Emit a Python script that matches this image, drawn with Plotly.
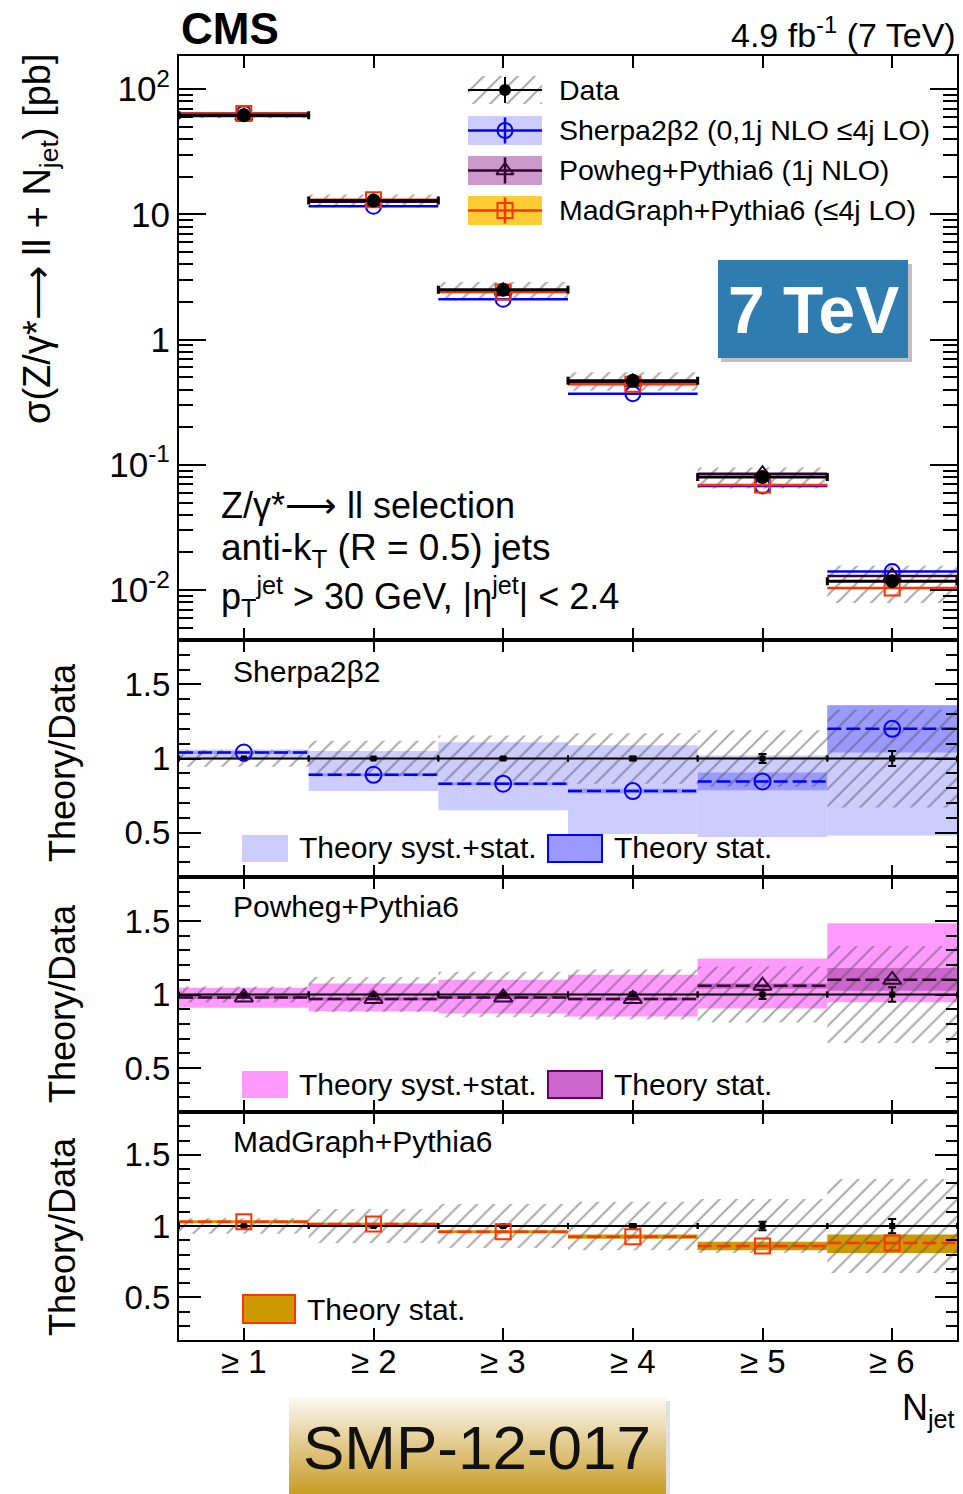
import plotly.graph_objects as go

W, H = 963, 1494
FONT = "Liberation Sans, Arial, Helvetica, sans-serif"

# ---------------- data ----------------
bins = [1, 2, 3, 4, 5, 6]
bin_labels = ["≥ 1", "≥ 2", "≥ 3", "≥ 4", "≥ 5", "≥ 6"]

data_xs = [62.0, 12.9, 2.5, 0.47, 0.080, 0.0118]
data_tot_rel = [0.055, 0.12, 0.155, 0.17, 0.19, 0.33]
data_stat_rel = [0.004, 0.005, 0.007, 0.012, 0.03, 0.05]
data_ratio = [1, 1, 1, 1, 1, 1]

sherpa_xs = [64.0, 11.6, 2.1, 0.37, 0.068, 0.0141]
powheg_xs = [61.0, 12.6, 2.45, 0.46, 0.085, 0.0130]
madgraph_xs = [64.0, 13.1, 2.4, 0.44, 0.069, 0.0104]

sherpa_ratio = [1.04, 0.89, 0.83, 0.78, 0.845, 1.20]
sherpa_syst_lo = [0.99, 0.78, 0.65, 0.49, 0.47, 0.48]
sherpa_syst_hi = [1.06, 1.05, 1.11, 1.09, 1.02, 1.36]
sherpa_stat_lo = [1.03, 0.88, 0.82, 0.765, 0.785, 1.04]
sherpa_stat_hi = [1.05, 0.90, 0.84, 0.795, 0.905, 1.36]

powheg_ratio = [0.98, 0.97, 0.98, 0.97, 1.06, 1.10]
powheg_syst_lo = [0.91, 0.886, 0.87, 0.85, 0.905, 0.947]
powheg_syst_hi = [1.046, 1.075, 1.10, 1.135, 1.245, 1.485]
powheg_stat_lo = [0.97, 0.96, 0.97, 0.96, 1.04, 1.025]
powheg_stat_hi = [0.99, 0.98, 0.99, 0.98, 1.075, 1.18]

madgraph_ratio = [1.03, 1.014, 0.96, 0.925, 0.86, 0.88]
madgraph_stat_lo = [1.02, 1.005, 0.95, 0.91, 0.83, 0.81]
madgraph_stat_hi = [1.04, 1.022, 0.97, 0.94, 0.89, 0.94]

# ---------------- styles ----------------
C_SHERPA = "#0000ff"
C_POWHEG = "#330033"
C_MADG = "#ff3300"
HATCH = dict(shape="/", fgcolor="#555555", bgcolor="rgba(0,0,0,0)", size=12, solidity=0.17, fillmode="overlay")


def fx(px):
    return px / W


def fy(py):
    return 1 - py / H


fig = go.Figure()

# ---------------- main panel ----------------
fig.add_trace(go.Bar(
    x=bins, base=[d * (1 - r) for d, r in zip(data_xs, data_tot_rel)],
    y=[d * 2 * r for d, r in zip(data_xs, data_tot_rel)], width=1.0,
    marker=dict(color="rgba(0,0,0,0)", line=dict(width=0), pattern=HATCH),
    xaxis="x", yaxis="y", showlegend=False, hoverinfo="skip"))

for vals, col, sym, sz in [(sherpa_xs, C_SHERPA, "circle-open", 15),
                           (powheg_xs, C_POWHEG, "triangle-up-open", 15),
                           (madgraph_xs, C_MADG, "square-open", 15)]:
    fig.add_trace(go.Scatter(
        x=bins, y=vals, mode="markers",
        marker=dict(symbol=sym, size=sz, color=col, line=dict(width=2, color=col)),
        error_x=dict(type="constant", value=0.5, thickness=2.5, width=0, color=col),
        xaxis="x", yaxis="y", showlegend=False))

fig.add_trace(go.Scatter(
    x=bins, y=data_xs, mode="markers",
    marker=dict(symbol="circle", size=14, color="black"),
    error_x=dict(type="constant", value=0.5, thickness=3, width=4, color="black"),
    xaxis="x", yaxis="y", showlegend=False))

# ---------------- ratio panels ----------------
def seg(vals):
    xs, ys = [], []
    for c, v in zip(bins, vals):
        xs += [c - 0.5, c + 0.5, None]
        ys += [v, v, None]
    return xs, ys


def band(lo, hi, color, ax):
    fig.add_trace(go.Bar(
        x=bins, base=lo, y=[h - l for l, h in zip(lo, hi)], width=1.0,
        marker=dict(color=color, line=dict(width=0)),
        xaxis="x" + ax, yaxis="y" + ax, showlegend=False, hoverinfo="skip"))


def data_ratio_traces(ax):
    fig.add_trace(go.Bar(
        x=bins, base=[1 - r for r in data_tot_rel], y=[2 * r for r in data_tot_rel], width=1.0,
        marker=dict(color="rgba(0,0,0,0)", line=dict(width=0), pattern=HATCH),
        xaxis="x" + ax, yaxis="y" + ax, showlegend=False, hoverinfo="skip"))
    fig.add_trace(go.Scatter(
        x=bins, y=data_ratio, mode="markers",
        marker=dict(symbol="square", size=6, color="black"),
        error_x=dict(type="constant", value=0.5, thickness=2, width=3, color="black"),
        error_y=dict(type="data", array=data_stat_rel, thickness=2, width=4, color="black"),
        xaxis="x" + ax, yaxis="y" + ax, showlegend=False))


def theory_traces(vals, col, sym, sz, ax):
    xs, ys = seg(vals)
    fig.add_trace(go.Scatter(
        x=xs, y=ys, mode="lines", line=dict(color=col, width=2.5, dash="14px,5px"),
        xaxis="x" + ax, yaxis="y" + ax, showlegend=False, connectgaps=False))
    fig.add_trace(go.Scatter(
        x=bins, y=vals, mode="markers",
        marker=dict(symbol=sym, size=sz, color=col, line=dict(width=2, color=col)),
        xaxis="x" + ax, yaxis="y" + ax, showlegend=False))


# Sherpa
band(sherpa_syst_lo, sherpa_syst_hi, "#ccccff", "2")
band(sherpa_stat_lo, sherpa_stat_hi, "#9999ff", "2")
data_ratio_traces("2")
theory_traces(sherpa_ratio, C_SHERPA, "circle-open", 16, "2")
# Powheg
band(powheg_syst_lo, powheg_syst_hi, "#ff99ff", "3")
band(powheg_stat_lo, powheg_stat_hi, "#cc66cc", "3")
data_ratio_traces("3")
theory_traces(powheg_ratio, C_POWHEG, "triangle-up-open", 16, "3")
# MadGraph
band(madgraph_stat_lo, madgraph_stat_hi, "#cc9900", "4")
data_ratio_traces("4")
theory_traces(madgraph_ratio, C_MADG, "square-open", 15, "4")

# ---------------- overlay (pixel) axis for legend glyphs / decorations ----------------
OV = dict(xaxis="x5", yaxis="y5", showlegend=False, hoverinfo="skip")
# data legend: hatched box
fig.add_trace(go.Scatter(x=[468, 542, 542, 468, 468], y=[76, 76, 104, 104, 76], mode="lines",
                         fill="toself", fillcolor="rgba(0,0,0,0)", fillpattern=HATCH,
                         line=dict(width=0), **OV))
fig.add_trace(go.Scatter(x=[468, 542, None, 505, 505], y=[90, 90, None, 77, 103], mode="lines",
                         line=dict(color="black", width=2), **OV))
fig.add_trace(go.Scatter(x=[505], y=[90], mode="markers", marker=dict(size=12, color="black"), **OV))
legend_rows = [(130.5, "#ccccff", C_SHERPA, "circle-open"),
               (170.5, "#cc99cc", C_POWHEG, "triangle-up-open"),
               (210.5, "#ffcc33", C_MADG, "square-open")]
for yc, fc, lc, sym in legend_rows:
    fig.add_trace(go.Scatter(x=[468, 542, 542, 468, 468], y=[yc - 14.5, yc - 14.5, yc + 14.5, yc + 14.5, yc - 14.5],
                             mode="lines", fill="toself", fillcolor=fc, line=dict(width=0), **OV))
    fig.add_trace(go.Scatter(x=[468, 542, None, 505, 505], y=[yc, yc, None, yc - 13, yc + 13], mode="lines",
                             line=dict(color=lc, width=2.5), **OV))
    fig.add_trace(go.Scatter(x=[505], y=[yc], mode="markers",
                             marker=dict(symbol=sym, size=15, color=lc, line=dict(width=2, color=lc)), **OV))

# SMP box with gradient
fig.add_trace(go.Scatter(x=[292, 670, 670, 292, 292], y=[1401, 1401, 1494, 1494, 1401], mode="lines",
                         fill="toself", fillcolor="rgba(0,0,0,0.12)", line=dict(width=0), **OV))
fig.add_trace(go.Scatter(x=[289, 666, 666, 289, 289], y=[1397, 1397, 1494, 1494, 1397], mode="lines",
                         fill="toself",
                         fillgradient=dict(type="vertical", colorscale=[[0, "#c79d25"], [0.5, "#e2c98a"], [1, "#fcfaf4"]]),
                         line=dict(width=0), **OV))

# ---------------- axes ----------------
dom_x = [fx(179), fx(957)]
main_dom = [fy(640), fy(56)]
r1_dom = [fy(877), fy(640)]
r2_dom = [fy(1112), fy(877)]
r3_dom = [fy(1340), fy(1112)]

xcommon = dict(domain=dom_x, range=[0.5, 6.5], tickvals=bins, ticktext=bin_labels,
               ticks="inside", ticklen=12, tickwidth=2, tickcolor="black",
               showline=True, linewidth=2, linecolor="black", mirror="ticks",
               showgrid=False, zeroline=False, fixedrange=True, showticklabels=False)

ycommon_ratio = dict(range=[0.2, 1.8], tickvals=[0.5, 1, 1.5], ticktext=["0.5", "1", "1.5"],
                     ticks="inside", ticklen=22, tickwidth=2, tickcolor="black",
                     minor=dict(dtick=0.1, tick0=0.2, ticks="inside", ticklen=11, tickwidth=2, tickcolor="black", showgrid=False),
                     showline=True, linewidth=2, linecolor="black", mirror="ticks",
                     showgrid=False, zeroline=False, fixedrange=True,
                     tickfont=dict(size=33, family=FONT, color="black"))

minor_log = [m * 10 ** e for e in range(-3, 3) for m in range(2, 10)]

layout_axes = dict(
    xaxis=dict(xcommon, anchor="y"),
    yaxis=dict(domain=main_dom, anchor="x", type="log", range=[-2.398, 2.265],
               tickvals=[0.01, 0.1, 1, 10, 100],
               ticktext=["10<sup>-2</sup>", "10<sup>-1</sup>", "1", "10", "10<sup>2</sup>"],
               ticks="inside", ticklen=27, tickwidth=2, tickcolor="black",
               minor=dict(tickvals=minor_log, ticks="inside", ticklen=14, tickwidth=2, tickcolor="black", showgrid=False),
               showline=True, linewidth=2, linecolor="black", mirror="ticks",
               showgrid=False, zeroline=False, fixedrange=True,
               tickfont=dict(size=35, family=FONT, color="black")),
    xaxis2=dict(xcommon, anchor="y2"),
    yaxis2=dict(ycommon_ratio, domain=r1_dom, anchor="x2"),
    xaxis3=dict(xcommon, anchor="y3"),
    yaxis3=dict(ycommon_ratio, domain=r2_dom, anchor="x3"),
    xaxis4=dict(xcommon, anchor="y4"),
    yaxis4=dict(ycommon_ratio, domain=r3_dom, anchor="x4"),
    xaxis5=dict(domain=[0, 1], range=[0, W], visible=False, anchor="y5", fixedrange=True),
    yaxis5=dict(domain=[0, 1], range=[H, 0], visible=False, anchor="x5", fixedrange=True),
)

# ---------------- annotations ----------------
def ann(text, px, py, size, xanchor="left", yanchor="middle", color="black", bold=False, angle=0):
    return dict(text=("<b>%s</b>" % text) if bold else text, x=fx(px), y=fy(py), xref="paper", yref="paper",
                xanchor=xanchor, yanchor=yanchor, showarrow=False, textangle=angle,
                font=dict(size=size, family=FONT, color=color))


annotations = [
    ann("CMS", 179, 28, 44, bold=True),
    ann("4.9 fb<sup>-1</sup> (7 TeV)", 958, 32, 34, xanchor="right"),
    ann("σ(Z/γ*⟶ ll + N<sub>jet</sub>) [pb]", 40, 239, 38, xanchor="center", angle=-90),
    ann("Data", 557, 90, 28.5),
    ann("Sherpa2β2 (0,1j NLO ≤4j LO)", 557, 130, 28.5),
    ann("Powheg+Pythia6 (1j NLO)", 557, 170, 28.5),
    ann("MadGraph+Pythia6 (≤4j LO)", 557, 210, 28.5),
    ann("7 TeV", 813, 310, 66, xanchor="center", color="white", bold=True),
    ann("Z/γ*⟶ ll selection", 219, 505, 36),
    ann("anti-k<sub>T</sub> (R = 0.5) jets", 219, 550, 37),
    ann("p<sub>T</sub><sup>jet</sup> > 30 GeV, |η<sup>jet</sup>| < 2.4", 219, 596, 36),
    ann("Theory/Data", 62, 763, 36, xanchor="center", angle=-90),
    ann("Theory/Data", 62, 1004, 36, xanchor="center", angle=-90),
    ann("Theory/Data", 62, 1237, 36, xanchor="center", angle=-90),
    ann("Sherpa2β2", 231, 671, 30),
    ann("Powheg+Pythia6", 231, 906, 30),
    ann("MadGraph+Pythia6", 231, 1141, 30),
    ann("Theory syst.+stat.", 297, 848, 30),
    ann("Theory stat.", 612, 848, 30),
    ann("Theory syst.+stat.", 297, 1084, 30),
    ann("Theory stat.", 612, 1084, 30),
    ann("Theory stat.", 305, 1309, 30),
    ann("N<sub>jet</sub>", 957, 1410, 36, xanchor="right"),
    ann("SMP-12-017", 477, 1447, 62, xanchor="center", color="#111111"),
]
# x tick labels (bottom panel), placed on the bin centres of the lower x axis
for b, lab in zip(bins, bin_labels):
    annotations.append(dict(text=lab, x=b, xref="x4", y=fy(1361), yref="paper", xanchor="center",
                            yanchor="middle", showarrow=False, font=dict(size=33, family=FONT, color="black")))


def rect(x0, y0, x1, y1, fill, line_color=None, lw=0, layer="below"):
    return dict(type="rect", xref="paper", yref="paper", x0=fx(x0), x1=fx(x1), y0=fy(y1), y1=fy(y0),
                fillcolor=fill, line=dict(color=line_color or fill, width=lw), layer=layer)


shapes = [
    rect(242, 835, 288, 862, "#ccccff"),
    rect(548, 835, 602, 862, "#9999ff", C_SHERPA, 2),
    rect(242, 1071, 288, 1098, "#ff99ff"),
    rect(548, 1071, 602, 1098, "#cc66cc", "#660066", 2),
    rect(243, 1295, 295, 1323, "#cc9900", C_MADG, 2),
    rect(721, 264, 912, 362, "rgba(0,0,0,0.25)", layer="above"),
    rect(718, 260, 908, 358, "#2f7db0", layer="above"),
]

fig.update_layout(
    width=W, height=H, margin=dict(l=0, r=0, t=0, b=0),
    paper_bgcolor="white", plot_bgcolor="rgba(0,0,0,0)",
    barmode="overlay", showlegend=False,
    font=dict(family=FONT, color="black"),
    annotations=annotations, shapes=shapes,
    **layout_axes)

fig.write_html("out.html")
